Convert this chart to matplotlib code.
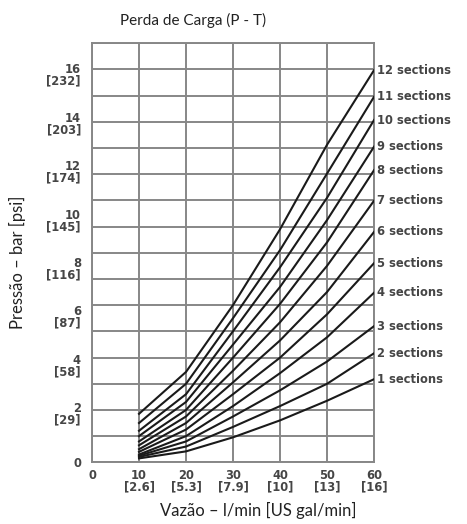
import numpy as np
import matplotlib
matplotlib.use("Agg")
import matplotlib.pyplot as plt

flow = [10, 20, 30, 40, 50, 60]

# pressure drop in bar, one row per number of sections (1 .. 12)
pressure = [
    [0.16, 0.45, 1.03, 1.73, 2.54, 3.43],
    [0.22, 0.65, 1.46, 2.32, 3.24, 4.50],
    [0.27, 0.86, 1.89, 2.97, 4.16, 5.62],
    [0.32, 1.08, 2.32, 3.68, 5.16, 7.00],
    [0.43, 1.35, 2.81, 4.32, 6.11, 8.22],
    [0.54, 1.62, 3.30, 5.03, 7.03, 9.51],
    [0.70, 1.89, 3.78, 5.78, 8.11, 10.80],
    [0.86, 2.16, 4.32, 6.54, 9.08, 12.06],
    [1.08, 2.49, 4.86, 7.24, 10.00, 13.03],
    [1.30, 2.81, 5.41, 8.05, 10.92, 14.13],
    [1.62, 3.24, 5.95, 8.76, 11.92, 15.09],
    [2.00, 3.73, 6.49, 9.62, 13.11, 16.19],
]
section_labels = ["%d sections" % n for n in range(1, 13)]

x_ticks = [0, 10, 20, 30, 40, 50, 60]
x_tick_labels = ["0", "10\n[2.6]", "20\n[5.3]", "30\n[7.9]", "40\n[10]",
                 "50\n[13]", "60\n[16]"]
y_ticks = [0, 2, 4, 6, 8, 10, 12, 14, 16]
y_tick_labels = ["0", "2\n[29]", "4\n[58]", "6\n[87]", "8\n[116]",
                 "10\n[145]", "12\n[174]", "14\n[203]", "16\n[232]"]

grid_col = "#878787"
text_col = "#454545"
step = 16 / 14.8  # the printed grid is not on whole bar values

fig = plt.figure(figsize=(4.67, 5.24), dpi=100)
ax = fig.add_axes([0.197, 0.1178, 0.604, 0.7996])

ax.set_xlim(0, 60)
ax.set_ylim(0, 16 * step)

for gx in x_ticks:
    ax.axvline(gx, color=grid_col, lw=1.4, zorder=1)
for gy in np.arange(17) * step:
    ax.axhline(gy, color=grid_col, lw=1.4, zorder=1)
for s in ax.spines.values():
    s.set_color(grid_col)
    s.set_linewidth(1.4)

for row, lab in zip(pressure, section_labels):
    ax.plot(flow, row, color="#1a1a1a", lw=1.5, zorder=3)
    ax.annotate(lab, (flow[-1], row[-1]), xytext=(2, 0),
                textcoords="offset points", va="center", ha="left",
                fontsize=8.3, color=text_col, fontweight="bold",
                family="DejaVu Sans", annotation_clip=False)

ax.set_xticks(x_ticks)
ax.set_xticklabels(x_tick_labels, fontsize=8.3, color=text_col,
                   fontweight="bold", family="DejaVu Sans", linespacing=0.85)
ax.set_yticks(y_ticks)
ax.set_yticklabels(y_tick_labels, fontsize=8.3, color=text_col,
                   fontweight="bold", family="DejaVu Sans", linespacing=0.85,
                   multialignment="right")
ax.tick_params(axis="y", length=0, pad=8)
ax.tick_params(axis="x", length=0, pad=5)

fig.text(193 / 467, 1 - 20 / 524, "Perda de Carga (P - T)", ha="center",
         va="center", fontsize=11, family="Lato", color="#222222")
fig.text(17 / 467, 1 - 262 / 524, "Pressão – bar [psi]", rotation=90,
         ha="center", va="center", fontsize=12, family="Lato", color="#222222")
fig.text(258 / 467, 1 - 510 / 524, "Vazão – l/min [US gal/min]", ha="center",
         va="center", fontsize=12, family="Lato", color="#222222")

fig.savefig("out.png", dpi=100, facecolor="white")
